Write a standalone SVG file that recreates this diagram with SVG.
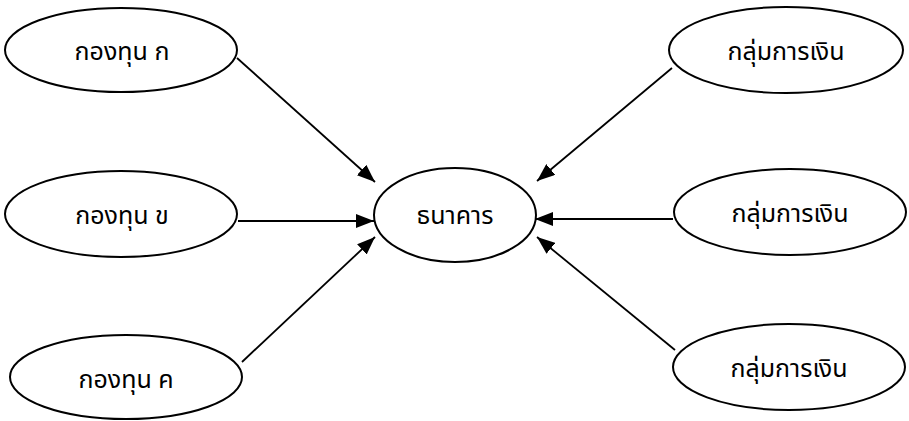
<svg xmlns="http://www.w3.org/2000/svg" width="909" height="421" viewBox="0 0 909 421">
<defs>
<style>
.node ellipse{fill:#fff;stroke:#000;stroke-width:2}
.node text{font-family:"Noto Sans Thai","Noto Sans","DejaVu Sans",sans-serif;font-size:25px;fill:#000;text-anchor:middle;dominant-baseline:central}
.edges line{stroke:#000;stroke-width:1.8;marker-end:url(#arr)}
</style>
<marker id="arr" viewBox="0 0 10 10" refX="10" refY="5" markerWidth="18" markerHeight="14" markerUnits="userSpaceOnUse" orient="auto" preserveAspectRatio="none">
<path d="M0,0 L10,5 L0,10 z" fill="#000"/>
</marker>
</defs>
<rect width="909" height="421" fill="#fff"/>
<g class="edges">
<line x1="237" y1="58" x2="375" y2="182"/>
<line x1="238" y1="221" x2="374" y2="221"/>
<line x1="242" y1="362" x2="375" y2="237"/>
<line x1="672" y1="68" x2="537" y2="181"/>
<line x1="673" y1="219" x2="535" y2="219"/>
<line x1="675" y1="350" x2="537" y2="237"/>
</g>
<g id="fundA" class="node"><ellipse cx="121" cy="50" rx="116" ry="42"/><text x="122" y="52">กองทุน ก</text></g>
<g id="fundB" class="node"><ellipse cx="121" cy="214" rx="116" ry="43"/><text x="122" y="216">กองทุน ข</text></g>
<g id="fundC" class="node"><ellipse cx="126" cy="377" rx="116" ry="42"/><text x="126" y="380">กองทุน ค</text></g>
<g id="bank" class="node"><ellipse cx="455" cy="215" rx="81" ry="47"/><text x="455" y="216">ธนาคาร</text></g>
<g id="groupA" class="node"><ellipse cx="786" cy="50" rx="117" ry="43"/><text x="786" y="52">กลุ่มการเงิน</text></g>
<g id="groupB" class="node"><ellipse cx="790" cy="212" rx="116" ry="43"/><text x="790" y="214">กลุ่มการเงิน</text></g>
<g id="groupC" class="node"><ellipse cx="789" cy="367" rx="116" ry="43"/><text x="789" y="369">กลุ่มการเงิน</text></g>
</svg>
